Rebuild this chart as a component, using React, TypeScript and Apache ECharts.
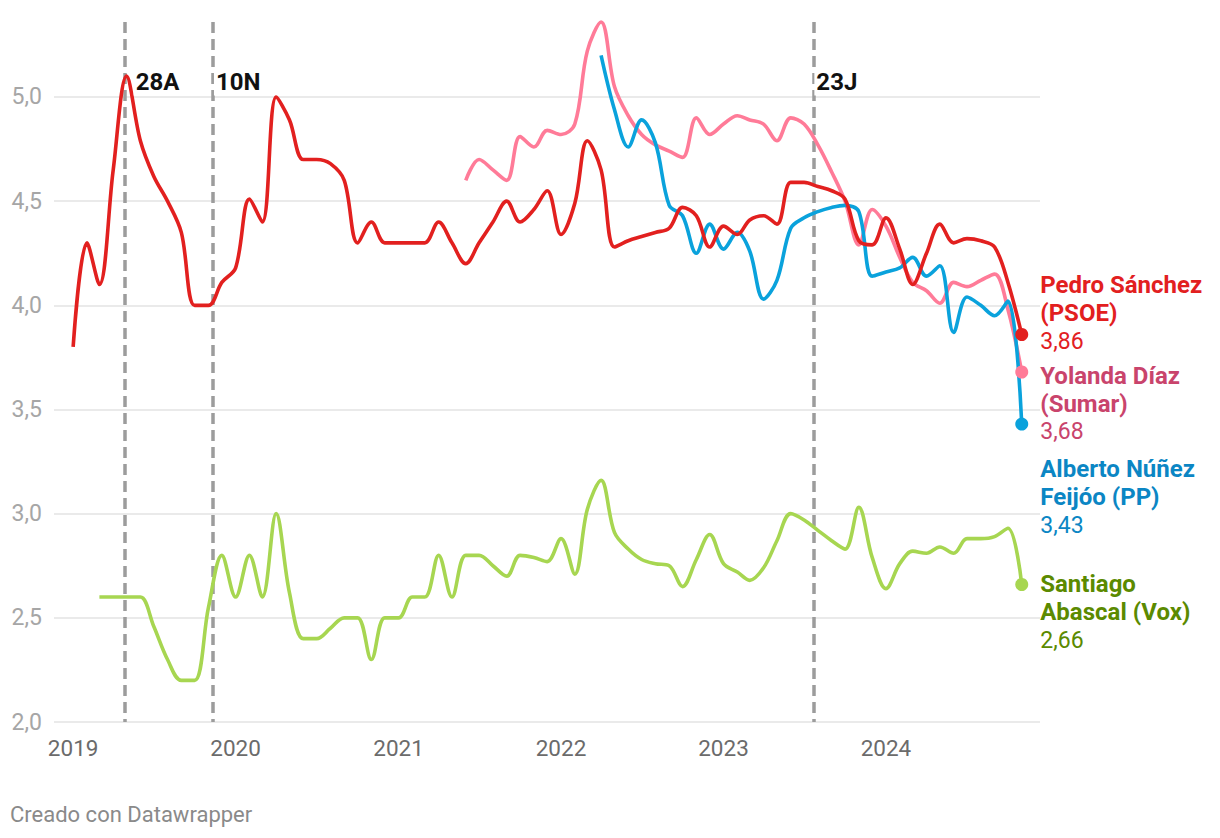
import React, { useEffect, useRef } from 'react';
import * as echarts from 'echarts';

// Monthly CIS leader ratings (1st of each month)
const psoeStart = '2019-01';
const psoeValues = [
  3.80, 4.30, 4.10, 4.65, 5.10, 4.79, 4.62, 4.50, 4.35, 4.00, 4.00, 4.11,
  4.18, 4.51, 4.40, 5.00, 4.89, 4.70, 4.70, 4.68, 4.60, 4.30, 4.40, 4.30,
  4.30, 4.30, 4.30, 4.40, 4.30, 4.20, 4.30, 4.40, 4.50, 4.40, 4.46, 4.55,
  4.34, 4.49, 4.79, 4.65, 4.28, 4.31, 4.33, 4.35, 4.37, 4.47, 4.43, 4.28,
  4.38, 4.34, 4.41, 4.43, 4.39, 4.59, 4.59, 4.57, 4.55, 4.51, 4.31, 4.29,
  4.42, 4.27, 4.10, 4.25, 4.39, 4.30, 4.32, 4.31, 4.28, 4.11, 3.86,
];

const diazStart = '2021-06';
const diazValues = [
  4.60, 4.70, 4.65, 4.60, 4.81, 4.76, 4.84,
  4.82, 4.87, 5.22, 5.36, 5.05, 4.91, 4.82, 4.77, 4.74, 4.71, 4.90, 4.82,
  4.87, 4.91, 4.89, 4.87, 4.79, 4.90, 4.87, 4.77, 4.64, 4.50, 4.29, 4.46,
  4.38, 4.23, 4.11, 4.07, 4.01, 4.11, 4.09, 4.12, 4.15, 3.98, 3.68,
];

const feijooStart = '2022-04';
const feijooValues = [
  5.20, 4.94, 4.76, 4.89, 4.78, 4.48, 4.43, 4.25, 4.39,
  4.27, 4.35, 4.26, 4.03, 4.12, 4.37, 4.42, 4.45, 4.47, 4.48, 4.45, 4.14,
  4.16, 4.18, 4.23, 4.14, 4.19, 3.87, 4.04, 4.00, 3.95, 4.02, 3.43,
];

const abascalStart = '2019-03';
const abascalValues = [
  2.60, 2.60, 2.60, 2.60, 2.46, 2.30, 2.20, 2.20, 2.55, 2.80,
  2.60, 2.80, 2.60, 3.00, 2.62, 2.40, 2.40, 2.45, 2.50, 2.50, 2.30, 2.50,
  2.50, 2.60, 2.60, 2.80, 2.60, 2.80, 2.80, 2.75, 2.70, 2.80, 2.79, 2.77,
  2.88, 2.71, 3.02, 3.16, 2.91, 2.83, 2.78, 2.76, 2.75, 2.65, 2.78, 2.90,
  2.76, 2.72, 2.68, 2.74, 2.87, 3.00, 2.97, 2.92, 2.87, 2.83, 3.03, 2.79,
  2.64, 2.76, 2.82, 2.81, 2.84, 2.81, 2.88, 2.88, 2.89, 2.93, 2.66,
];

const leaderNames = [
  ['Pedro Sánchez', '(PSOE)'],
  ['Yolanda Díaz', '(Sumar)'],
  ['Alberto Núñez', 'Feijóo (PP)'],
  ['Santiago', 'Abascal (Vox)'],
];

const eventDates = ['2019-04-28', '2019-11-10', '2023-07-23'];
const eventNames = ['28A', '10N', '23J'];
const eventLineTop = 5.36;
const eventLabelValue = 5.07;

const yearTicks = ['2019-01-01', '2020-01-01', '2021-01-01', '2022-01-01', '2023-01-01', '2024-01-01'];
const xMin = '2018-11-19';
const xMax = '2024-12-12';
const yTicksMin = 2;
const yTicksMax = 5.5;
const yInterval = 0.5;

const FONT = 'Roboto, "Noto Sans", Arial, sans-serif';

function ts(d: string): number {
  const [y, m, day] = d.split('-').map(Number);
  return new Date(y, m - 1, day || 1).getTime();
}

function monthSeq(start: string, values: number[]) {
  const [y, m] = start.split('-').map(Number);
  return values.map((v, i) => [new Date(y, m - 1 + i, 1).getTime(), v]);
}

function buildSeries(
  name: string,
  start: string,
  values: number[],
  lineColor: string,
  labelColor: string,
  nameLines: string[],
  dy: number,
  z: number
) {
  const pts = monthSeq(start, values);
  const last = pts.length - 1;
  const valueText = values[last].toFixed(2).replace('.', ',');
  return {
    type: 'line',
    name,
    smooth: 0.35,
    symbol: 'none',
    showSymbol: true,
    showAllSymbol: true,
    silent: true,
    z,
    lineStyle: { color: lineColor, width: 3.6 },
    itemStyle: { color: lineColor },
    emphasis: { disabled: true },
    data: pts.map((p, i) =>
      i === last
        ? {
            value: p,
            symbol: 'circle',
            symbolSize: 13,
            label: {
              show: true,
              position: 'right',
              distance: 12,
              offset: [0, dy],
              align: 'left',
              verticalAlign: 'middle',
              formatter: nameLines.map((l) => `{n|${l}}`).join('\n') + `\n{v|${valueText}}`,
              rich: {
                n: { fontFamily: FONT, fontWeight: 'bold', fontSize: 24, lineHeight: 28, color: labelColor },
                v: { fontFamily: FONT, fontWeight: 'normal', fontSize: 23, lineHeight: 28, color: labelColor },
              },
            },
          }
        : p
    ),
  };
}

export default function App() {
  const ref = useRef<HTMLDivElement>(null);
  useEffect(() => {
    if (!ref.current) return;
    const chart = echarts.init(ref.current, undefined, { renderer: 'svg' });
    const eventGaps = [8, 1, 0];
    const option = {
      animation: false,
      backgroundColor: '#ffffff',
      textStyle: { fontFamily: FONT },
      grid: {
        left: 54,
        right: 180,
        top: -7.17,
        bottom: 116,
        containLabel: false,
        outerBoundsMode: 'none',
      },
      xAxis: {
        type: 'value',
        min: ts(xMin),
        max: ts(xMax),
        axisLine: { show: false },
        axisTick: { show: false },
        splitLine: { show: false },
        axisLabel: {
          customValues: yearTicks.map(ts),
          formatter: (v: number) => String(new Date(v).getFullYear()),
          color: '#6b6b6b',
          fontSize: 22.5,
          fontFamily: FONT,
          margin: 14,
        },
      },
      yAxis: {
        type: 'value',
        min: yTicksMin,
        max: yTicksMax,
        interval: yInterval,
        axisLine: { show: false },
        axisTick: { show: false },
        splitLine: { show: true, lineStyle: { color: '#e3e3e3', width: 1.5 } },
        axisLabel: {
          formatter: (v: number) => (v > 5.01 ? '' : v.toFixed(1).replace('.', ',')),
          color: '#a6a6a6',
          fontSize: 23,
          fontFamily: FONT,
          margin: 12,
        },
      },
      series: [
        {
          type: 'scatter',
          name: 'events',
          silent: true,
          z: 5,
          symbol: 'circle',
          symbolSize: 1,
          itemStyle: { color: 'rgba(255,255,255,0)', opacity: 1 },
          label: {
            show: true,
            position: 'right',
            formatter: '{b}',
            fontFamily: FONT,
            fontWeight: 'bold',
            fontSize: 24,
            color: '#111111',
            opacity: 1,
            backgroundColor: '#ffffff',
            padding: [2, 1, 0, 2],
          },
          data: eventDates.map((d, i) => ({
            name: eventNames[i],
            value: [ts(d), eventLabelValue],
            label: { distance: eventGaps[i] },
          })),
          markLine: {
            z: 1,
            silent: true,
            symbol: ['none', 'none'],
            label: { show: false },
            lineStyle: { color: '#9c9c9c', width: 3.5, type: [11, 6], opacity: 1 },
            data: eventDates.map((d) => [
              { coord: [ts(d), eventLineTop] },
              { coord: [ts(d), yTicksMin] },
            ]),
          },
        },
        buildSeries('Santiago Abascal (Vox)', abascalStart, abascalValues, '#a7d651', '#5b8a00', leaderNames[3], 28, 2),
        buildSeries('Yolanda Díaz (Sumar)', diazStart, diazValues, '#ff7b98', '#c9446c', leaderNames[1], 32, 3),
        buildSeries('Alberto Núñez Feijóo (PP)', feijooStart, feijooValues, '#0aa2dc', '#0b86c4', leaderNames[2], 73, 3),
        buildSeries('Pedro Sánchez (PSOE)', psoeStart, psoeValues, '#e2201f', '#e2201f', leaderNames[0], -21, 4),
      ],
      graphic: [
        {
          type: 'text',
          left: 10,
          top: 803,
          silent: true,
          style: {
            text: 'Creado con Datawrapper',
            fontFamily: FONT,
            fontSize: 22,
            fill: '#8a8a8a',
          },
        },
      ],
    };
    chart.setOption(option as any);
    return () => chart.dispose();
  }, []);
  return (
    <div
      ref={ref}
      style={{ position: 'fixed', left: 0, top: 0, width: 1220, height: 838, background: '#fff' }}
    />
  );
}
